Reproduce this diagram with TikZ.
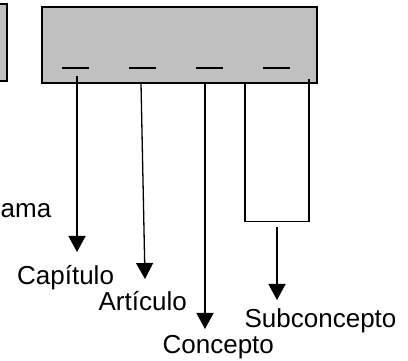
\documentclass[tikz,border=0pt]{standalone}
\usepackage{fontspec}
\setmainfont{Liberation Sans}
\usetikzlibrary{positioning,arrows.meta}

\definecolor{boxgray}{HTML}{C0C0C0}

\begin{document}
\begin{tikzpicture}[x=1pt,y=-1pt,line width=1.3pt,
  lbl/.style={anchor=base west,inner sep=0pt,font=\fontsize{26}{30}\selectfont},
  arr/.style={-{Triangle[width=17pt,length=16pt]}}]

  \useasboundingbox (0,0) rectangle (408,361);
  \clip (0,0) rectangle (408,361);

  % boxes
  \draw[fill=boxgray] (-10,4) rectangle (7,81);
  \draw[fill=boxgray] (42,7) rectangle (317,83);
  \foreach \x in {62,129,196,263}
    \draw[line width=1.7pt] (\x,67.7) -- ++(27,0);

  % ends of the lines
  \coordinate (s1) at (77,76);
  \coordinate (t1) at (77,252);
  \coordinate (s2) at (141,83);
  \coordinate (t2) at (145,279);
  \coordinate (s3) at (205,84);
  \coordinate (t3) at (205,329);
  \coordinate (s4) at (245,83);
  \coordinate (s5) at (309,79);
  \coordinate (b4) at (245,221.7);
  \coordinate (b5) at (309,221.7);
  \coordinate (s6) at (277,227);
  \coordinate (t6) at (277,300);

  % labels
  \node[lbl] (prog) at (0,218) {ama};
  \node[lbl] (cap) at (16.5,284) {Capítulo};
  \node[lbl] (art) at (98,311) {Artículo};
  \node[lbl] (con) at (162,353) {Concepto};
  \node[lbl] (sub) at (244,327) {Subconcepto};

  \draw[arr] (s1) -- (t1);
  \draw[arr] (s2) -- (t2);
  \draw[arr] (s3) -- (t3);
  \draw (s4) -- (b4) -- (b5) -- (s5);
  \draw[arr] (s6) -- (t6);

\end{tikzpicture}
\end{document}
